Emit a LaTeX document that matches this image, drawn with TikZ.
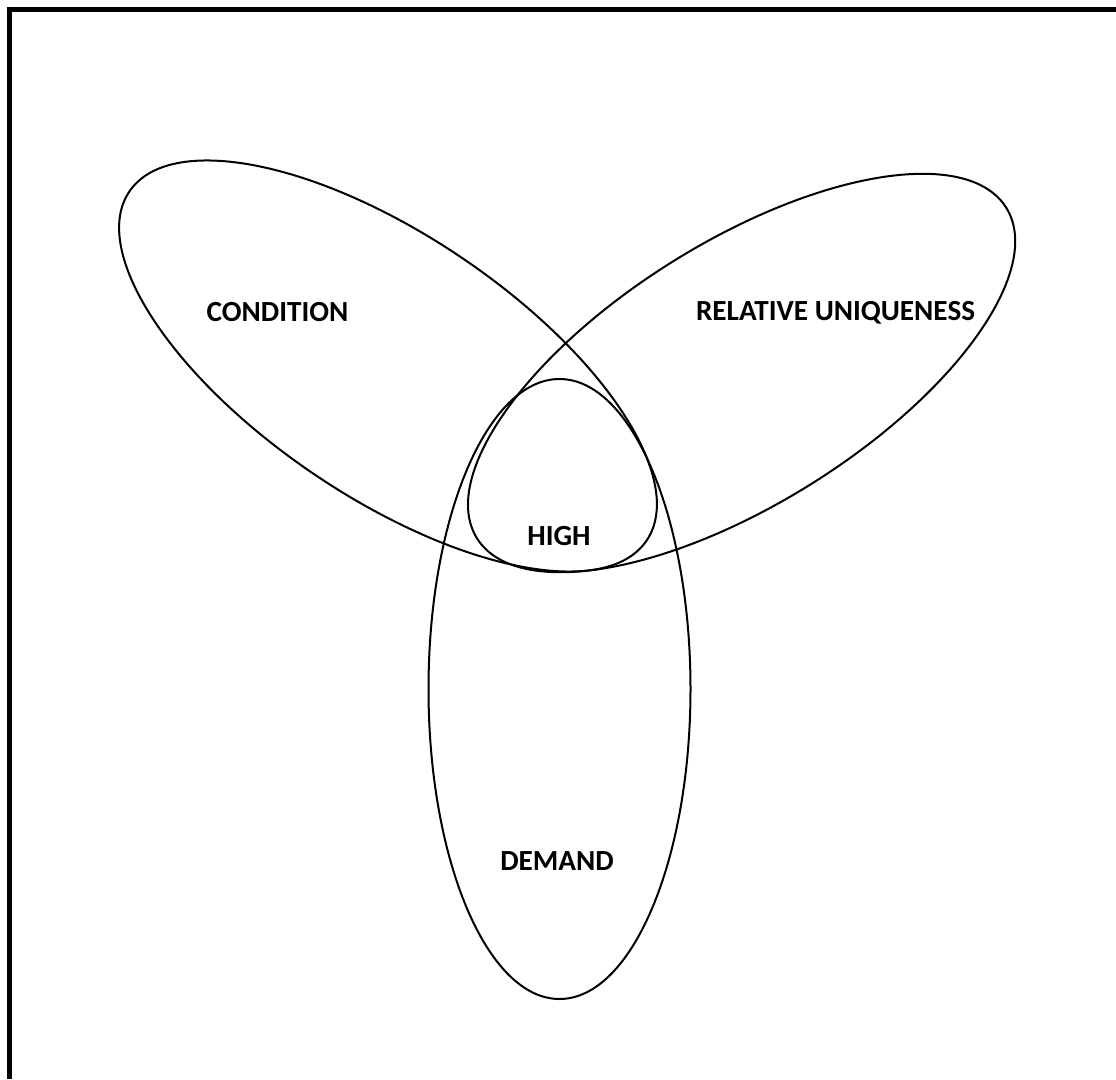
\documentclass[tikz,border=0pt]{standalone}
\usepackage{fontspec}
\setmainfont{Carlito}
\usetikzlibrary{positioning}

\begin{document}
\begin{tikzpicture}[x=1pt, y=-1pt,
            setline/.style={line width=2pt},
            setlabel/.style={font=\fontsize{29.2}{33}\selectfont\bfseries, inner sep=0pt},
            frameline/.style={line width=5pt}
        ]
        \useasboundingbox (0,0) rectangle (1116,1079);
        % --- frame, open at right and bottom ---
        \draw[frameline] (9.8,1079) -- (9.8,9.8) -- (1116,9.8);

        % --- Condition (upper left) ---
        \draw[setline, rotate around={-34:(388,366)}] (388,366) ellipse [x radius=312, y radius=131];
        \node[setlabel] (cond) at (277.5,312) {CONDITION};

        % --- Relative uniqueness (upper right) ---
        \draw[setline, rotate around={32:(741.6,373)}] (741.6,373) ellipse [x radius=312, y radius=131];
        \node[setlabel] (uniq) at (835.5,313) {RELATIVE UNIQUENESS};

        % --- Demand (bottom) ---
        \draw[setline] (559.5,689) ellipse [x radius=131, y radius=310];
        \node[setlabel] (dem) at (557,861) {DEMAND};

        % --- overlap of all three ---
        \node[setlabel] (high) at (559,536) {HIGH};
        \end{tikzpicture}
\end{document}
